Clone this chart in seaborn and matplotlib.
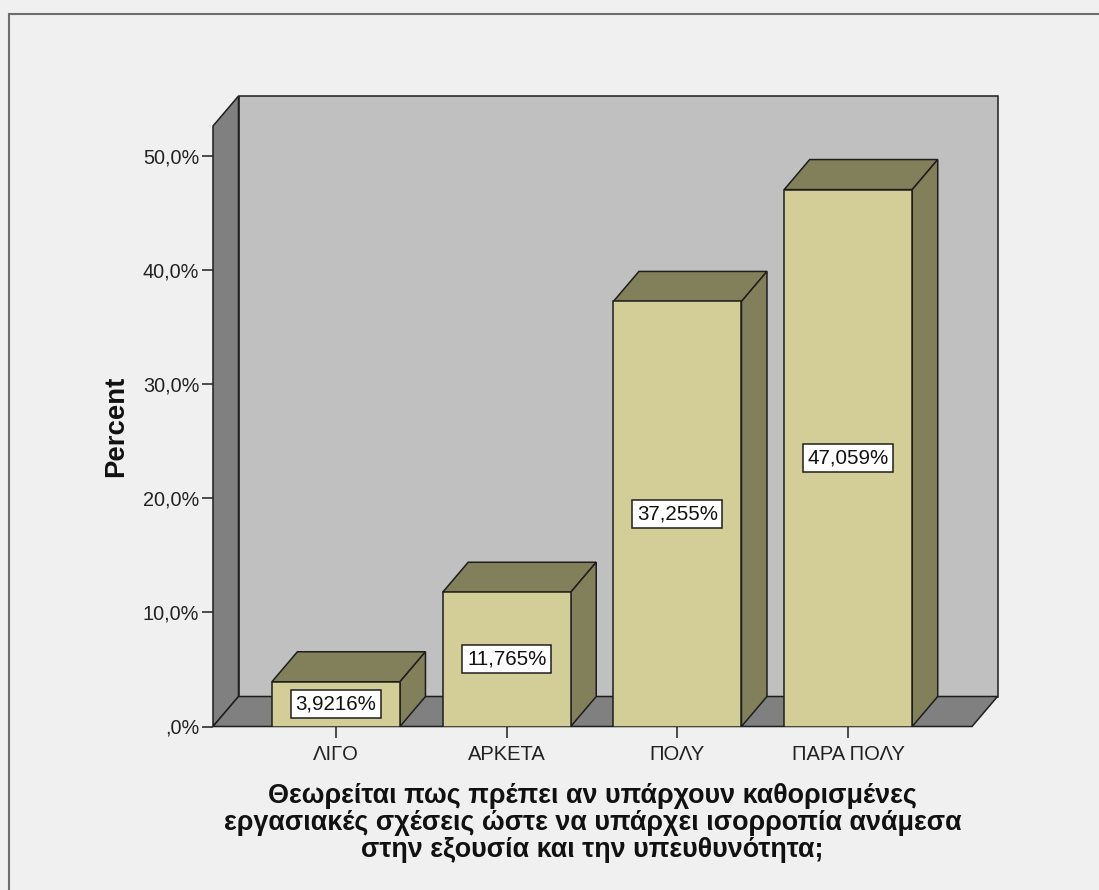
import numpy as np
import pandas as pd
import matplotlib
matplotlib.use("Agg")
import matplotlib.pyplot as plt
from matplotlib.patches import Polygon, Rectangle
from matplotlib.ticker import FuncFormatter
import seaborn as sns

categories = ["ΛΙΓΟ", "ΑΡΚΕΤΑ", "ΠΟΛΥ", "ΠΑΡΑ ΠΟΛΥ"]
percents = [3.9216, 11.765, 37.255, 47.059]
bar_labels = ["3,9216%", "11,765%", "37,255%", "47,059%"]
y_ticks = [0, 10, 20, 30, 40, 50]

xlabel_text = ("Θεωρείται πως πρέπει αν υπάρχουν καθορισμένες\n"
               "εργασιακές σχέσεις ώστε να υπάρχει ισορροπία ανάμεσα\n"
               "στην εξουσία και την υπευθυνότητα;")

df = pd.DataFrame({"category": categories, "percent": percents})

sns.set_theme(style="white")
plt.rcParams["font.family"] = ["Liberation Sans", "DejaVu Sans"]

BG = "#f0f0f0"
BACK_WALL = "#c0c0c0"
SIDE_WALL = "#808080"
BAR_FRONT = "#d3ce97"
BAR_SHADE = "#827f5b"
EDGE = "#1e1e1e"
LW = 1.1

W, H = 1099, 890
fig = plt.figure(figsize=(W / 100, H / 100), dpi=100)
fig.patch.set_facecolor(BG)

# front plane of the 3D box, in pixels
left, right, bottom, top = 213, 972, 726.5, 126
ax = fig.add_axes([left / W, (H - bottom) / H, (right - left) / W, (bottom - top) / H])
ax.patch.set_visible(False)

sns.barplot(data=df, x="category", y="percent", color=BAR_FRONT, saturation=1,
            width=0.75, edgecolor=EDGE, linewidth=LW, ax=ax, zorder=3)

x0, x1 = -0.72, 3.725
y0, y1 = 0, 52.63
ax.set_xlim(x0, x1)
ax.set_ylim(y0, y1)

# depth offset (25.5 px right, 30 px up) in data units
ddx = 25.5 * (x1 - x0) / (right - left)
ddy = 30 * (y1 - y0) / (bottom - top)

def face(pts, color, z):
    ax.add_patch(Polygon(pts, closed=True, fc=color, ec=EDGE, lw=LW,
                         clip_on=False, zorder=z, joinstyle="miter"))

# walls and floor
face([(x0 + ddx, y0 + ddy), (x1 + ddx, y0 + ddy), (x1 + ddx, y1 + ddy), (x0 + ddx, y1 + ddy)], BACK_WALL, 0.5)
face([(x0, y0), (x0 + ddx, y0 + ddy), (x0 + ddx, y1 + ddy), (x0, y1)], SIDE_WALL, 0.6)
face([(x0, y0), (x1, y0), (x1 + ddx, y0 + ddy), (x0 + ddx, y0 + ddy)], SIDE_WALL, 0.6)

# top and side faces of each bar
for bar in ax.containers[0]:
    bx, bw, bh = bar.get_x(), bar.get_width(), bar.get_height()
    face([(bx, bh), (bx + bw, bh), (bx + bw + ddx, bh + ddy), (bx + ddx, bh + ddy)], BAR_SHADE, 2)
    face([(bx + bw, 0), (bx + bw + ddx, ddy), (bx + bw + ddx, bh + ddy), (bx + bw, bh)], BAR_SHADE, 2)

ax.bar_label(ax.containers[0], labels=bar_labels, label_type="center", fontsize=14.8,
             color="#111111", zorder=5,
             bbox=dict(boxstyle="square,pad=0.22", fc="white", ec=EDGE, lw=1.1))

for s in ax.spines.values():
    s.set_visible(False)

ax.set_yticks(y_ticks)
ax.yaxis.set_major_formatter(FuncFormatter(
    lambda v, _: ",0%" if v == 0 else f"{v:.1f}%".replace(".", ",")))
ax.tick_params(axis="y", length=8, width=LW, color=EDGE, pad=2, labelsize=14.3,
               labelcolor="#222222", left=True)
ax.tick_params(axis="x", length=8, width=LW, color=EDGE, pad=5, labelsize=14.5,
               labelcolor="#222222", bottom=True)

ax.set_ylabel("Percent", fontsize=19.8, fontweight="bold", labelpad=10, color="#111111")
ax.set_xlabel(xlabel_text, fontsize=19.4, fontweight="bold", labelpad=14,
              linespacing=1.05, color="#111111")

# outer frame (only the top and left edges fall inside the picture)
fig.add_artist(Rectangle((9 / W, -0.5), 1.2, 0.5 + (H - 14) / H, transform=fig.transFigure,
                         fill=False, ec="#6e6e6e", lw=1.5))

fig.savefig("out.png", dpi=100, facecolor=fig.get_facecolor())
